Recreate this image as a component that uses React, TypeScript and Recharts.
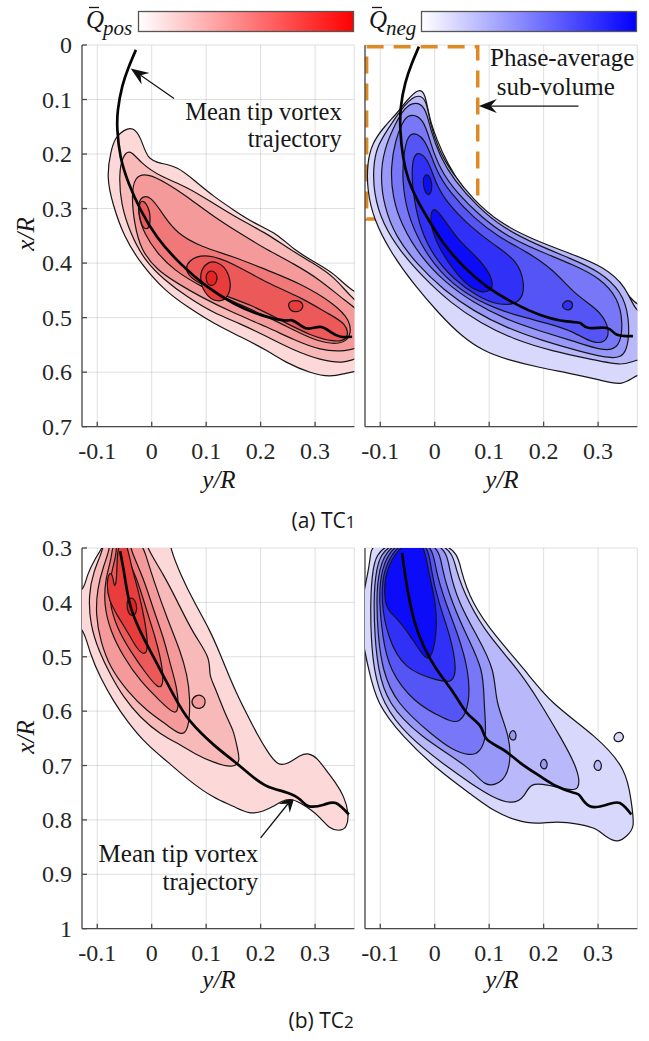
import { ScatterChart, Scatter, XAxis, YAxis, CartesianGrid, ReferenceLine, ReferenceArea, Curve } from 'recharts';

type P = [number, number]; // [y/R, x/R]

const serif = '"Liberation Serif", "Times New Roman", Times, serif';
const sans = '"Open Sans", "Noto Sans", sans-serif';

// axis ticks
const yrTicks = [-0.1, 0, 0.1, 0.2, 0.3];
const xrTicksTC1 = [0, 0.1, 0.2, 0.3, 0.4, 0.5, 0.6, 0.7];
const xrTicksTC2 = [0.3, 0.4, 0.5, 0.6, 0.7, 0.8, 0.9, 1];

// contour fill levels (outer -> core)
const reds = ['#fcd8d8', '#f8b9b9', '#f49a9a', '#f07878', '#ec5959', '#e93c3c', '#e62323'];
const blues = ['#d8d8fc', '#b8b8fa', '#9898f8', '#7777f7', '#5555f6', '#3030f7', '#0c0cf9'];

// ---- TC1, Q pos ----
const tl1: P[] = [[-0.035,0.150],[-0.020,0.168],[-0.008,0.211],[0.017,0.217],[0.047,0.223],[0.078,0.248],[0.114,0.278],[0.151,0.303],[0.188,0.327],[0.231,0.346],[0.261,0.376],[0.304,0.401],[0.335,0.419],[0.365,0.450],[0.40,0.465],[0.40,0.595],[0.372,0.598],[0.353,0.603],[0.328,0.609],[0.292,0.602],[0.249,0.584],[0.212,0.560],[0.163,0.535],[0.114,0.511],[0.065,0.480],[0.023,0.450],[-0.020,0.401],[-0.051,0.352],[-0.072,0.291],[-0.083,0.242],[-0.075,0.193],[-0.066,0.168],[-0.051,0.156]];
const tl2: P[] = [[-0.040,0.190],[-0.020,0.217],[0.017,0.242],[0.065,0.260],[0.114,0.291],[0.163,0.321],[0.212,0.346],[0.255,0.376],[0.298,0.401],[0.335,0.425],[0.365,0.462],[0.40,0.49],[0.40,0.57],[0.372,0.575],[0.353,0.584],[0.310,0.578],[0.261,0.560],[0.212,0.535],[0.163,0.511],[0.114,0.492],[0.065,0.462],[0.023,0.431],[-0.014,0.394],[-0.039,0.346],[-0.057,0.291],[-0.060,0.235],[-0.054,0.205]];
const tl3: P[] = [[-0.032,0.241],[-0.008,0.235],[0.029,0.254],[0.065,0.278],[0.114,0.315],[0.163,0.346],[0.212,0.376],[0.261,0.401],[0.310,0.431],[0.353,0.468],[0.40,0.50],[0.40,0.55],[0.353,0.563],[0.310,0.560],[0.261,0.541],[0.212,0.517],[0.151,0.492],[0.090,0.462],[0.047,0.437],[0.010,0.413],[-0.020,0.376],[-0.032,0.327],[-0.037,0.278]];
const tl4: P[] = [[-0.023,0.278],[-0.002,0.275],[0.023,0.315],[0.047,0.346],[0.090,0.370],[0.151,0.388],[0.212,0.413],[0.273,0.437],[0.335,0.474],[0.365,0.505],[0.366,0.535],[0.347,0.550],[0.304,0.544],[0.261,0.523],[0.212,0.498],[0.151,0.471],[0.090,0.443],[0.041,0.413],[0.010,0.382],[-0.014,0.346],[-0.026,0.309]];
const tl5: P[] = [[0.065,0.394],[0.102,0.382],[0.151,0.401],[0.212,0.437],[0.273,0.462],[0.322,0.492],[0.359,0.511],[0.362,0.541],[0.335,0.545],[0.292,0.533],[0.243,0.508],[0.182,0.476],[0.127,0.458],[0.084,0.435],[0.062,0.419]];
const tl5b: P[] = [[-0.025,0.283],[-0.008,0.287],[0.000,0.325],[-0.010,0.343],[-0.022,0.325]];
const tl6: P[] = [[0.096,0.401],[0.120,0.394],[0.145,0.419],[0.145,0.462],[0.120,0.474],[0.096,0.456],[0.087,0.425]];
const tl6b: P[] = [[0.252,0.468],[0.276,0.468],[0.280,0.484],[0.262,0.492],[0.250,0.482]];
const tl7: P[] = [[0.102,0.414],[0.118,0.414],[0.122,0.434],[0.108,0.445],[0.098,0.431]];
const tlPath: P[] = [[-0.029,0.009],[-0.042,0.040],[-0.054,0.076],[-0.062,0.119],[-0.063,0.156],[-0.057,0.205],[-0.042,0.254],[-0.020,0.303],[0.010,0.352],[0.053,0.401],[0.102,0.443],[0.151,0.474],[0.200,0.495],[0.243,0.505],[0.258,0.505],[0.273,0.514],[0.289,0.520],[0.310,0.517],[0.328,0.526],[0.347,0.535],[0.368,0.535]];

// ---- TC1, Q neg ----
const tr1: P[] = [[-0.029,0.079],[-0.017,0.089],[-0.011,0.131],[0.004,0.174],[0.023,0.217],[0.053,0.266],[0.096,0.314],[0.145,0.351],[0.194,0.375],[0.255,0.394],[0.303,0.412],[0.340,0.437],[0.364,0.473],[0.40,0.49],[0.40,0.60],[0.371,0.603],[0.346,0.626],[0.303,0.614],[0.243,0.601],[0.194,0.592],[0.133,0.577],[0.090,0.562],[0.047,0.532],[0.010,0.495],[-0.038,0.440],[-0.081,0.380],[-0.112,0.320],[-0.124,0.266],[-0.124,0.217],[-0.115,0.180],[-0.093,0.150],[-0.069,0.125],[-0.051,0.101]];
const tr2: P[] = [[-0.035,0.089],[-0.015,0.098],[-0.009,0.143],[0.007,0.192],[0.032,0.235],[0.071,0.284],[0.120,0.327],[0.181,0.357],[0.248,0.382],[0.310,0.406],[0.352,0.443],[0.368,0.491],[0.40,0.50],[0.40,0.575],[0.368,0.577],[0.346,0.589],[0.291,0.577],[0.218,0.562],[0.145,0.540],[0.084,0.510],[0.029,0.473],[-0.020,0.427],[-0.063,0.379],[-0.096,0.327],[-0.112,0.272],[-0.113,0.223],[-0.106,0.186],[-0.087,0.156],[-0.063,0.119]];
const tr3: P[] = [[-0.042,0.104],[-0.017,0.110],[-0.008,0.156],[0.010,0.205],[0.035,0.247],[0.078,0.296],[0.126,0.336],[0.187,0.366],[0.248,0.391],[0.303,0.415],[0.343,0.452],[0.358,0.498],[0.355,0.568],[0.328,0.577],[0.267,0.562],[0.200,0.543],[0.132,0.519],[0.071,0.488],[0.016,0.449],[-0.032,0.403],[-0.072,0.351],[-0.093,0.296],[-0.100,0.241],[-0.093,0.192],[-0.075,0.150],[-0.060,0.122]];
const tr4: P[] = [[-0.048,0.125],[-0.020,0.134],[-0.008,0.180],[0.010,0.229],[0.041,0.272],[0.084,0.314],[0.132,0.351],[0.194,0.379],[0.255,0.403],[0.303,0.427],[0.337,0.464],[0.346,0.510],[0.340,0.556],[0.310,0.562],[0.255,0.543],[0.194,0.525],[0.132,0.504],[0.071,0.473],[0.016,0.433],[-0.026,0.388],[-0.060,0.333],[-0.078,0.278],[-0.081,0.223],[-0.072,0.174],[-0.060,0.143]];
const tr5: P[] = [[-0.048,0.156],[-0.017,0.168],[0.001,0.229],[0.029,0.272],[0.071,0.317],[0.120,0.354],[0.169,0.379],[0.218,0.412],[0.255,0.455],[0.291,0.479],[0.316,0.504],[0.322,0.543],[0.291,0.549],[0.255,0.525],[0.206,0.510],[0.157,0.498],[0.108,0.482],[0.059,0.458],[0.010,0.418],[-0.026,0.366],[-0.051,0.308],[-0.060,0.247],[-0.057,0.198]];
const tr6: P[] = [[-0.038,0.192],[-0.013,0.205],[0.001,0.253],[0.023,0.290],[0.065,0.333],[0.108,0.366],[0.151,0.394],[0.166,0.437],[0.160,0.473],[0.120,0.479],[0.078,0.461],[0.035,0.430],[-0.002,0.388],[-0.026,0.339],[-0.038,0.284],[-0.043,0.235]];
const tr6b: P[] = [[0.235,0.471],[0.250,0.467],[0.255,0.479],[0.247,0.488],[0.234,0.483]];
const tr7: P[] = [[-0.005,0.296],[0.010,0.308],[0.041,0.357],[0.084,0.394],[0.108,0.430],[0.105,0.455],[0.071,0.452],[0.035,0.415],[0.004,0.366],[-0.009,0.327]];
const tr7b: P[] = [[-0.020,0.236],[-0.007,0.239],[-0.004,0.271],[-0.014,0.278],[-0.022,0.258]];
const trPath: P[] = [[-0.029,0.003],[-0.042,0.034],[-0.054,0.070],[-0.062,0.113],[-0.063,0.156],[-0.058,0.205],[-0.048,0.247],[-0.032,0.284],[-0.011,0.321],[0.016,0.363],[0.053,0.406],[0.096,0.443],[0.145,0.473],[0.194,0.495],[0.242,0.507],[0.267,0.510],[0.283,0.519],[0.316,0.519],[0.334,0.531],[0.364,0.534]];

// ---- TC2, Q pos ----
const bl1: P[] = [[-0.085,0.285],[0.034,0.285],[0.034,0.300],[0.053,0.349],[0.077,0.398],[0.108,0.453],[0.126,0.496],[0.141,0.533],[0.157,0.570],[0.175,0.606],[0.194,0.643],[0.212,0.674],[0.231,0.700],[0.249,0.698],[0.273,0.680],[0.289,0.677],[0.304,0.686],[0.322,0.711],[0.338,0.732],[0.353,0.756],[0.362,0.787],[0.359,0.815],[0.344,0.821],[0.325,0.815],[0.310,0.796],[0.292,0.781],[0.273,0.769],[0.255,0.760],[0.237,0.766],[0.224,0.775],[0.206,0.784],[0.179,0.790],[0.151,0.775],[0.114,0.760],[0.071,0.730],[0.028,0.692],[-0.009,0.662],[-0.045,0.619],[-0.070,0.582],[-0.094,0.539],[-0.113,0.496],[-0.125,0.447],[-0.145,0.44],[-0.145,0.38],[-0.125,0.380],[-0.119,0.349],[-0.103,0.318],[-0.091,0.300]];
const bl2: P[] = [[-0.088,0.285],[-0.009,0.285],[-0.009,0.300],[0.022,0.349],[0.047,0.398],[0.077,0.459],[0.108,0.502],[0.105,0.533],[0.114,0.551],[0.126,0.582],[0.138,0.612],[0.151,0.637],[0.157,0.668],[0.163,0.692],[0.150,0.705],[0.114,0.695],[0.078,0.678],[0.053,0.662],[0.016,0.643],[-0.021,0.612],[-0.051,0.576],[-0.076,0.533],[-0.097,0.490],[-0.113,0.441],[-0.116,0.386],[-0.107,0.343],[-0.090,0.305]];
const bl2b: P[] = [[0.072,0.580],[0.082,0.569],[0.096,0.572],[0.100,0.586],[0.090,0.597],[0.076,0.593]];
const bl3: P[] = [[-0.080,0.285],[-0.021,0.285],[-0.012,0.309],[0.004,0.361],[0.028,0.429],[0.053,0.490],[0.065,0.533],[0.071,0.576],[0.068,0.637],[0.053,0.645],[0.028,0.625],[-0.009,0.600],[-0.045,0.563],[-0.076,0.521],[-0.094,0.472],[-0.103,0.423],[-0.100,0.374],[-0.088,0.331],[-0.076,0.300]];
const bl4: P[] = [[-0.072,0.285],[-0.040,0.285],[-0.039,0.303],[-0.015,0.355],[0.004,0.416],[0.022,0.465],[0.034,0.514],[0.047,0.557],[0.050,0.600],[0.040,0.605],[0.016,0.582],[-0.021,0.545],[-0.051,0.502],[-0.076,0.453],[-0.088,0.404],[-0.085,0.355],[-0.073,0.318]];
const bl5: P[] = [[-0.066,0.285],[-0.050,0.285],[-0.051,0.306],[-0.027,0.355],[-0.009,0.416],[0.007,0.465],[0.019,0.514],[0.022,0.551],[0.013,0.560],[-0.009,0.533],[-0.039,0.490],[-0.064,0.447],[-0.079,0.398],[-0.076,0.349],[-0.064,0.312]];
const bl6: P[] = [[-0.060,0.288],[-0.046,0.288],[-0.039,0.328],[-0.024,0.380],[-0.012,0.435],[-0.006,0.484],[-0.013,0.498],[-0.027,0.486],[-0.045,0.453],[-0.064,0.423],[-0.079,0.395],[-0.083,0.367],[-0.078,0.343],[-0.071,0.350],[-0.069,0.375],[-0.064,0.360],[-0.064,0.320]];
const bl7: P[] = [[-0.047,0.400],[-0.040,0.390],[-0.030,0.395],[-0.026,0.412],[-0.032,0.426],[-0.043,0.423]];
const blPath: P[] = [[-0.058,0.306],[-0.050,0.350],[-0.039,0.407],[-0.020,0.455],[0.001,0.496],[0.040,0.570],[0.071,0.619],[0.114,0.662],[0.151,0.692],[0.181,0.717],[0.212,0.738],[0.249,0.750],[0.273,0.763],[0.289,0.775],[0.316,0.772],[0.338,0.769],[0.362,0.790]];

// ---- TC2, Q neg ----
const br1: P[] = [[-0.112,0.285],[0.038,0.285],[0.047,0.340],[0.068,0.401],[0.111,0.462],[0.166,0.524],[0.212,0.585],[0.297,0.646],[0.353,0.707],[0.361,0.769],[0.368,0.815],[0.352,0.830],[0.337,0.842],[0.316,0.833],[0.297,0.815],[0.267,0.808],[0.224,0.802],[0.187,0.808],[0.151,0.802],[0.108,0.784],[0.071,0.756],[0.004,0.707],[-0.060,0.646],[-0.107,0.585],[-0.121,0.524],[-0.135,0.462],[-0.135,0.401],[-0.121,0.340],[-0.118,0.310]];
const br2: P[] = [[-0.100,0.285],[0.029,0.285],[0.038,0.340],[0.062,0.401],[0.099,0.462],[0.154,0.524],[0.194,0.585],[0.230,0.646],[0.264,0.707],[0.267,0.747],[0.242,0.744],[0.206,0.735],[0.175,0.732],[0.166,0.756],[0.145,0.772],[0.108,0.760],[0.065,0.732],[0.029,0.707],[-0.051,0.646],[-0.096,0.585],[-0.112,0.524],[-0.117,0.462],[-0.118,0.401],[-0.115,0.340]];
const br3: P[] = [[-0.090,0.285],[0.020,0.285],[0.026,0.340],[0.044,0.401],[0.078,0.462],[0.111,0.524],[0.111,0.585],[0.139,0.646],[0.139,0.707],[0.120,0.735],[0.090,0.738],[0.071,0.707],[-0.029,0.646],[-0.087,0.585],[-0.104,0.524],[-0.110,0.462],[-0.112,0.401],[-0.109,0.340]];
const br4: P[] = [[-0.081,0.285],[0.007,0.285],[0.013,0.340],[0.032,0.401],[0.059,0.462],[0.090,0.524],[0.090,0.585],[0.096,0.646],[0.084,0.675],[0.065,0.683],[0.030,0.670],[-0.002,0.646],[-0.072,0.585],[-0.096,0.524],[-0.104,0.462],[-0.107,0.401],[-0.104,0.340]];
const br5: P[] = [[-0.072,0.285],[-0.005,0.285],[0.001,0.340],[0.020,0.401],[0.044,0.462],[0.062,0.524],[0.065,0.585],[0.047,0.625],[0.020,0.615],[-0.038,0.585],[-0.084,0.524],[-0.096,0.462],[-0.102,0.401],[-0.100,0.340]];
const br6: P[] = [[-0.063,0.285],[-0.013,0.285],[-0.007,0.340],[0.007,0.401],[0.029,0.462],[0.041,0.524],[0.032,0.548],[0.010,0.545],[-0.057,0.524],[-0.087,0.462],[-0.098,0.401],[-0.096,0.340]];
const br7: P[] = [[-0.054,0.285],[-0.020,0.285],[-0.013,0.340],[0.003,0.401],[0.004,0.462],[-0.008,0.508],[-0.020,0.500],[-0.045,0.462],[-0.060,0.440],[-0.085,0.415],[-0.092,0.401],[-0.093,0.340]];
const brIsleA: P[] = [[0.328,0.647],[0.335,0.638],[0.345,0.640],[0.348,0.650],[0.340,0.657],[0.330,0.655]];
const brIsleB: P[] = [[0.292,0.698],[0.297,0.689],[0.305,0.692],[0.307,0.704],[0.301,0.711],[0.293,0.706]];
const brIsleC: P[] = [[0.194,0.695],[0.199,0.687],[0.206,0.691],[0.207,0.703],[0.201,0.708],[0.194,0.702]];
const brIsleD: P[] = [[0.137,0.642],[0.142,0.634],[0.149,0.638],[0.150,0.650],[0.144,0.655],[0.137,0.649]];
const brPath: P[] = [[-0.060,0.309],[-0.051,0.370],[-0.038,0.432],[-0.020,0.481],[0.004,0.524],[0.035,0.567],[0.059,0.603],[0.084,0.628],[0.096,0.652],[0.126,0.671],[0.157,0.695],[0.194,0.720],[0.224,0.738],[0.255,0.750],[0.267,0.756],[0.285,0.775],[0.316,0.772],[0.340,0.769],[0.361,0.790]];

type Layer = { pts: P[]; level: number };

const rows = (pts: P[]) => pts.map(([yr, xr]) => ({ yr, xr }));
const noDot = () => null;

const Arrow = (p: any) => {
  const { x1, y1, x2, y2 } = p;
  const a = Math.atan2(y2 - y1, x2 - x1);
  const c = Math.cos(a);
  const s = Math.sin(a);
  const L = 18;
  const W = 7;
  const N = 12;
  const bx = x2 - L * c;
  const by = y2 - L * s;
  const nx = x2 - N * c;
  const ny = y2 - N * s;
  return (
    <g>
      <line x1={x1} y1={y1} x2={nx} y2={ny} stroke="#111" strokeWidth={1.3} />
      <polygon points={`${x2},${y2} ${bx - W * s},${by + W * c} ${nx},${ny} ${bx + W * s},${by - W * c}`} fill="#111" />
    </g>
  );
};

const fmt = (v: number) => String(v);
const serifStyle = { fontFamily: serif };

const BottomTick = (p: any) => (
  <text x={p.x} y={p.y} dy="0.71em" textAnchor="middle" style={{ fontFamily: serif, fontSize: 24 }} fill="#262626">
    {fmt(p.payload.value)}
  </text>
);
const LeftTick = (p: any) => (
  <text x={p.x} y={p.y} dy="0.34em" textAnchor="end" style={{ fontFamily: serif, fontSize: 24 }} fill="#262626">
    {fmt(p.payload.value)}
  </text>
);

type PanelProps = {
  left: number;
  top: number;
  plotH: number;
  xrDomain: [number, number];
  xrTicks: number[];
  layers: Layer[];
  palette: string[];
  path: P[];
  yLabels: boolean;
  children?: any;
};

function Panel({ left, top, plotH, xrDomain, xrTicks, layers, palette, path, yLabels, children }: PanelProps) {
  const plotW = 272.3;
  const padL = yLabels ? 82 : 10;
  const axisColor = '#4a4a4a';
  return (
    <div style={{ position: 'absolute', left: left - padL, top: top - 12 }}>
      <ScatterChart width={plotW + padL + 12} height={plotH + 12 + 70} margin={{ top: 12, right: 12, bottom: 0, left: 0 }}>
        <XAxis
          type="number"
          dataKey="yr"
          domain={[-0.128, 0.372]}
          ticks={yrTicks}
          interval={0}
          allowDataOverflow
          height={70}
          tickSize={-5}
          tickMargin={20}
          tick={BottomTick}
          stroke={axisColor}
          strokeWidth={1.3}
        />
        <XAxis xAxisId="top" orientation="top" type="number" domain={[-0.128, 0.372]} ticks={yrTicks} interval={0} allowDataOverflow height={0} tickSize={-5} tick={false} stroke={axisColor} strokeWidth={1.3} />
        <YAxis
          type="number"
          dataKey="xr"
          reversed
          domain={xrDomain}
          ticks={xrTicks}
          interval={0}
          allowDataOverflow
          width={padL}
          tickSize={-5}
          tickMargin={15}
          tick={yLabels ? LeftTick : false}
          stroke={axisColor}
          strokeWidth={1.3}
        />
        <YAxis yAxisId="right" orientation="right" type="number" reversed domain={xrDomain} ticks={xrTicks} interval={0} allowDataOverflow width={0} tickSize={-5} tick={false} stroke={axisColor} strokeWidth={1.3} />
        {layers.map((l, i) => (
          <Scatter
            key={i}
            data={rows(l.pts)}
            isAnimationActive={false}
            shape={noDot}
            legendType="none"
            line={(p: any) => <Curve points={p.points} type="basisClosed" fill={palette[l.level]} stroke="#161616" strokeWidth={1.2} />}
          />
        ))}
        <CartesianGrid stroke="rgba(0,0,0,0.13)" />
        <Scatter
          data={rows(path)}
          isAnimationActive={false}
          shape={noDot}
          legendType="none"
          line={(p: any) => <Curve points={p.points} type="natural" fill="none" stroke="#050505" strokeWidth={2.7} />}
        />
        {children}
      </ScatterChart>
    </div>
  );
}

const tlLayers: Layer[] = [
  { pts: tl1, level: 0 }, { pts: tl2, level: 1 }, { pts: tl3, level: 2 }, { pts: tl4, level: 3 },
  { pts: tl5, level: 4 }, { pts: tl5b, level: 4 }, { pts: tl6, level: 5 }, { pts: tl6b, level: 5 }, { pts: tl7, level: 6 },
];
const trLayers: Layer[] = [
  { pts: tr1, level: 0 }, { pts: tr2, level: 1 }, { pts: tr3, level: 2 }, { pts: tr4, level: 3 },
  { pts: tr5, level: 4 }, { pts: tr6, level: 5 }, { pts: tr6b, level: 5 }, { pts: tr7, level: 6 }, { pts: tr7b, level: 6 },
];
const blLayers: Layer[] = [
  { pts: bl1, level: 0 }, { pts: bl2, level: 1 }, { pts: bl2b, level: 2 }, { pts: bl3, level: 2 },
  { pts: bl4, level: 3 }, { pts: bl5, level: 4 }, { pts: bl6, level: 5 }, { pts: bl7, level: 6 },
];
const brLayers: Layer[] = [
  { pts: brIsleA, level: 0 }, { pts: br1, level: 0 }, { pts: brIsleB, level: 1 }, { pts: br2, level: 1 },
  { pts: brIsleC, level: 2 }, { pts: brIsleD, level: 2 }, { pts: br3, level: 2 }, { pts: br4, level: 3 },
  { pts: br5, level: 4 }, { pts: br6, level: 5 }, { pts: br7, level: 6 },
];

const txt = { fill: '#161616', style: serifStyle };

export default function App() {
  return (
    <div style={{ position: 'absolute', left: 0, top: 0, width: 649, height: 1041, background: '#fff', overflow: 'hidden' }}>
      <Panel left={81.7} top={45} plotH={381.7} xrDomain={[0, 0.7]} xrTicks={xrTicksTC1} layers={tlLayers} palette={reds} path={tlPath} yLabels>
        <ReferenceLine ifOverflow="visible" segment={[{ x: 0.041, y: 0.098 }, { x: -0.0385, y: 0.043 }]} shape={Arrow} />
      </Panel>
      <Panel left={365} top={45} plotH={381.7} xrDomain={[0, 0.7]} xrTicks={xrTicksTC1} layers={trLayers} palette={blues} path={trPath} yLabels={false}>
        <ReferenceArea x1={-0.125} x2={0.079} y1={0.003} y2={0.319} ifOverflow="visible" fill="none" stroke="#de8a22" strokeWidth={3.5} strokeDasharray="17 10" />
        <ReferenceLine ifOverflow="visible" segment={[{ x: 0.264, y: 0.112 }, { x: 0.081, y: 0.112 }]} shape={Arrow} />
      </Panel>
      <Panel left={81.7} top={548.3} plotH={380.7} xrDomain={[0.3, 1]} xrTicks={xrTicksTC2} layers={blLayers} palette={reds} path={blPath} yLabels>
        <ReferenceLine ifOverflow="visible" segment={[{ x: 0.2, y: 0.833 }, { x: 0.264, y: 0.753 }]} shape={Arrow} />
      </Panel>
      <Panel left={365} top={548.3} plotH={380.7} xrDomain={[0.3, 1]} xrTicks={xrTicksTC2} layers={brLayers} palette={blues} path={brPath} yLabels={false} />

      <svg width={649} height={1041} style={{ position: 'absolute', left: 0, top: 0, pointerEvents: 'none' }}>
        <defs>
          <linearGradient id="cbRed" x1="0" x2="1" y1="0" y2="0">
            <stop offset="0" stopColor="#ffffff" />
            <stop offset="1" stopColor="#ff0000" />
          </linearGradient>
          <linearGradient id="cbBlue" x1="0" x2="1" y1="0" y2="0">
            <stop offset="0" stopColor="#ffffff" />
            <stop offset="1" stopColor="#0000ff" />
          </linearGradient>
        </defs>
        <rect x={138.5} y={11.5} width={215} height={20} fill="url(#cbRed)" stroke="#555" strokeWidth={1.3} />
        <rect x={421.5} y={11.5} width={215} height={20} fill="url(#cbBlue)" stroke="#555" strokeWidth={1.3} />
        <line x1={89} x2={99} y1={7.5} y2={7.5} stroke="#161616" strokeWidth={1.3} />
        <text x={86} y={28} fontSize={25} fontStyle="italic" {...txt}>Q</text>
        <text x={103} y={35} fontSize={21} fontStyle="italic" {...txt}>pos</text>
        <line x1={372} x2={382} y1={7.5} y2={7.5} stroke="#161616" strokeWidth={1.3} />
        <text x={369} y={28} fontSize={25} fontStyle="italic" {...txt}>Q</text>
        <text x={386} y={35} fontSize={21} fontStyle="italic" {...txt}>neg</text>

        <text x={341.7} y={119.5} fontSize={24.5} textAnchor="end" {...txt}>Mean tip vortex</text>
        <text x={341.7} y={146.5} fontSize={24.5} textAnchor="end" {...txt}>trajectory</text>
        <text x={490} y={66} fontSize={25} {...txt}>Phase-average</text>
        <text x={496.7} y={95} fontSize={25} {...txt}>sub-volume</text>
        <text x={258.3} y={861.7} fontSize={25} textAnchor="end" {...txt}>Mean tip vortex</text>
        <text x={258.3} y={890} fontSize={25} textAnchor="end" {...txt}>trajectory</text>

        <text transform="translate(34,234) rotate(-90)" fontSize={25} fontStyle="italic" textAnchor="middle" {...txt}>x/R</text>
        <text transform="translate(34,737) rotate(-90)" fontSize={25} fontStyle="italic" textAnchor="middle" {...txt}>x/R</text>
        <text x={219} y={488} fontSize={25} fontStyle="italic" textAnchor="middle" {...txt}>y/R</text>
        <text x={502} y={488} fontSize={25} fontStyle="italic" textAnchor="middle" {...txt}>y/R</text>
        <text x={219} y={988} fontSize={25} fontStyle="italic" textAnchor="middle" {...txt}>y/R</text>
        <text x={502} y={988} fontSize={25} fontStyle="italic" textAnchor="middle" {...txt}>y/R</text>

        <text x={291.5} y={528} fontSize={21} fontFamily={sans} fill="#161616">
          (a) TC<tspan fontSize={17}>1</tspan>
        </text>
        <text x={288.5} y={1028} fontSize={21} fontFamily={sans} fill="#161616">
          (b) TC<tspan fontSize={17}>2</tspan>
        </text>
      </svg>
    </div>
  );
}
